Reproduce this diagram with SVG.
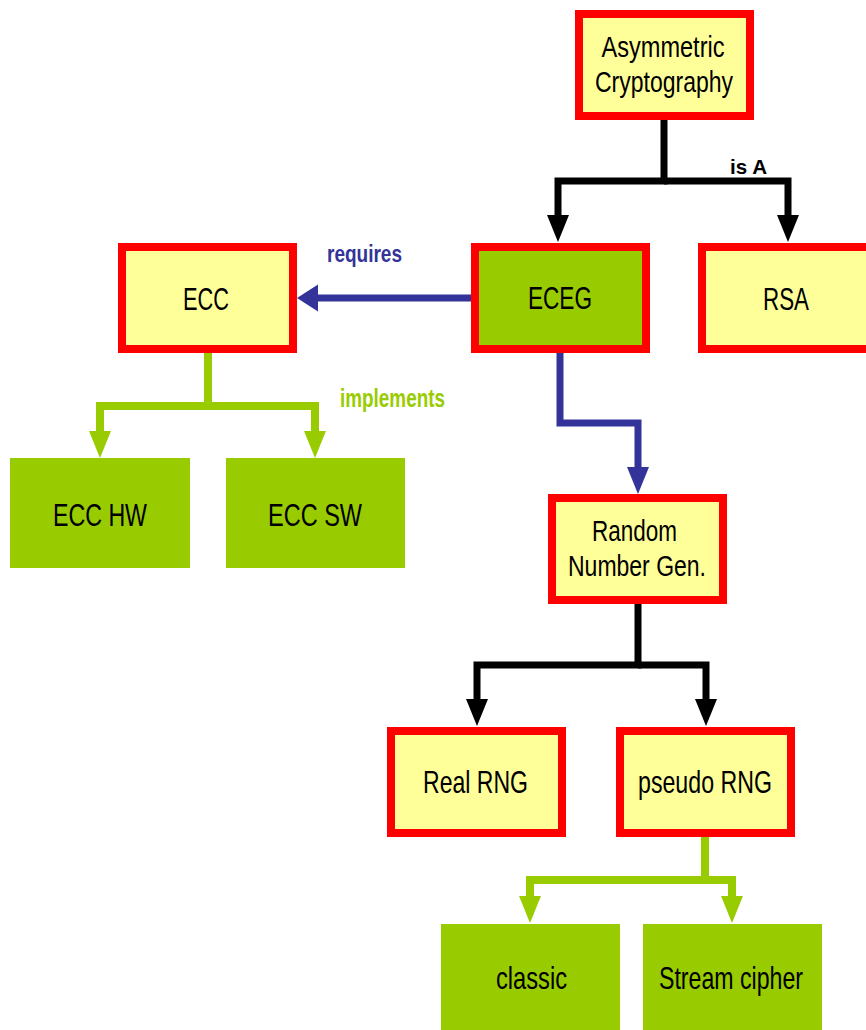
<svg xmlns="http://www.w3.org/2000/svg" width="866" height="1030" viewBox="0 0 866 1030">
  <style>
    .box { stroke: #ff0000; stroke-width: 8; }
    .yel { fill: #ffff99; }
    .grn { fill: #99cc00; }
    .lbl { font-family: "Liberation Sans", Arial, sans-serif; font-size: 32px; fill: #000; text-anchor: middle; }
    .lbl2 { font-size: 29px; }
    .edge { font-family: "Liberation Sans", Arial, sans-serif; font-weight: bold; }
    .wire { fill: none; stroke-width: 7; stroke-linejoin: miter; stroke-linecap: butt; }
    .k { stroke: #000; }
    .b { stroke: #333399; }
    .g { stroke: #99cc00; stroke-width: 8; }
  </style>
  <defs>
    <marker id="headDownK" markerUnits="userSpaceOnUse" markerWidth="28" markerHeight="24" viewBox="0 -12 28 24" refX="0" refY="0" orient="auto">
      <path d="M0,-11 L27,0 L0,11 z" fill="#000"/>
    </marker>
    <marker id="headDownG" markerUnits="userSpaceOnUse" markerWidth="28" markerHeight="24" viewBox="0 -12 28 24" refX="0" refY="0" orient="auto">
      <path d="M0,-11 L27,0 L0,11 z" fill="#99cc00"/>
    </marker>
    <marker id="headDownB" markerUnits="userSpaceOnUse" markerWidth="28" markerHeight="24" viewBox="0 -12 28 24" refX="0" refY="0" orient="auto">
      <path d="M0,-11 L27,0 L0,11 z" fill="#333399"/>
    </marker>
    <marker id="headSideB" markerUnits="userSpaceOnUse" markerWidth="22" markerHeight="28" viewBox="0 -14 22 28" refX="0" refY="0" orient="auto">
      <path d="M0,-13.5 L21,0 L0,13.5 z" fill="#333399"/>
    </marker>
  </defs>

  <rect width="866" height="1030" fill="#ffffff"/>

  <!-- connectors -->
  <g id="connectors">
    <path class="wire k" d="M664,120 V181 H558 V215" marker-end="url(#headDownK)"/>
    <path class="wire k" d="M664,181 H788 V215" marker-end="url(#headDownK)"/>
    <text class="edge" x="748.5" y="174" font-size="21" fill="#000" text-anchor="middle" textLength="37" lengthAdjust="spacingAndGlyphs">is A</text>

    <path class="wire b" d="M471,298 H318" marker-end="url(#headSideB)"/>
    <text class="edge" x="364.5" y="262" font-size="24" fill="#333399" text-anchor="middle" textLength="75" lengthAdjust="spacingAndGlyphs">requires</text>

    <path class="wire g" d="M208,353 V406 H100 V431" marker-end="url(#headDownG)"/>
    <path class="wire g" d="M208,406 H315 V431" marker-end="url(#headDownG)"/>
    <text class="edge" x="392.5" y="407" font-size="25" fill="#99cc00" text-anchor="middle" textLength="105" lengthAdjust="spacingAndGlyphs">implements</text>

    <path class="wire b" d="M560,353 V423 H638 V467" marker-end="url(#headDownB)"/>

    <path class="wire k" d="M638,604 V665 H477 V699" marker-end="url(#headDownK)"/>
    <path class="wire k" d="M638,665 H706 V699" marker-end="url(#headDownK)"/>

    <path class="wire g" d="M705,837 V880 H530 V896" marker-end="url(#headDownG)"/>
    <path class="wire g" d="M705,880 H732 V896" marker-end="url(#headDownG)"/>
  </g>

  <!-- nodes -->
  <g id="asym">
    <rect class="box yel" x="579" y="14" width="171" height="102"/>
    <text class="lbl lbl2" x="663" y="57" textLength="123" lengthAdjust="spacingAndGlyphs">Asymmetric</text>
    <text class="lbl lbl2" x="664" y="92" textLength="138" lengthAdjust="spacingAndGlyphs">Cryptography</text>
  </g>

  <g id="eceg">
    <rect class="box grn" x="475" y="247" width="171" height="102"/>
    <text class="lbl" x="560" y="309" textLength="64" lengthAdjust="spacingAndGlyphs">ECEG</text>
  </g>

  <g id="rsa">
    <rect class="box yel" x="702" y="247" width="171" height="102"/>
    <text class="lbl" x="786" y="310" textLength="46" lengthAdjust="spacingAndGlyphs">RSA</text>
  </g>

  <g id="ecc">
    <rect class="box yel" x="122" y="247" width="171" height="102"/>
    <text class="lbl" x="206" y="310" textLength="46" lengthAdjust="spacingAndGlyphs">ECC</text>
  </g>

  <g id="ecc-hw">
    <rect class="grn" x="10" y="458" width="180" height="110"/>
    <text class="lbl" x="100" y="526" textLength="94" lengthAdjust="spacingAndGlyphs">ECC HW</text>
  </g>

  <g id="ecc-sw">
    <rect class="grn" x="226" y="458" width="179" height="110"/>
    <text class="lbl" x="315" y="526" textLength="94" lengthAdjust="spacingAndGlyphs">ECC SW</text>
  </g>

  <g id="rng">
    <rect class="box yel" x="552" y="498" width="171" height="102"/>
    <text class="lbl lbl2" x="634.5" y="541" textLength="85" lengthAdjust="spacingAndGlyphs">Random</text>
    <text class="lbl lbl2" x="637" y="576" textLength="138" lengthAdjust="spacingAndGlyphs">Number Gen.</text>
  </g>

  <g id="real-rng">
    <rect class="box yel" x="391" y="731" width="171" height="102"/>
    <text class="lbl" x="475.5" y="793" textLength="105" lengthAdjust="spacingAndGlyphs">Real RNG</text>
  </g>

  <g id="pseudo-rng">
    <rect class="box yel" x="620" y="731" width="171" height="102"/>
    <text class="lbl" x="705" y="793" textLength="134" lengthAdjust="spacingAndGlyphs">pseudo RNG</text>
  </g>

  <g id="classic">
    <rect class="grn" x="441" y="924" width="179" height="120"/>
    <text class="lbl" x="531.5" y="989" textLength="71" lengthAdjust="spacingAndGlyphs">classic</text>
  </g>

  <g id="stream-cipher">
    <rect class="grn" x="643" y="924" width="179" height="120"/>
    <text class="lbl" x="731" y="989" textLength="144" lengthAdjust="spacingAndGlyphs">Stream cipher</text>
  </g>
</svg>
